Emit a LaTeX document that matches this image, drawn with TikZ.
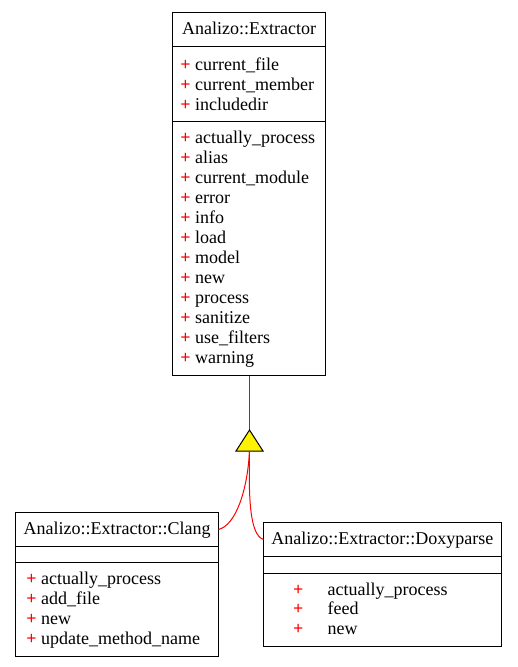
\documentclass[tikz,border=0pt]{standalone}
\usepackage{fontspec}
\setmainfont{Liberation Serif}
\usetikzlibrary{positioning}

\newcommand{\pubmark}{\textcolor{red}{\textbf{+}}}

\begin{document}
\begin{tikzpicture}[
    x=1pt, y=-1pt,
    line join=miter,
    classbox/.style={draw=black, line width=1pt, fill=white, inner sep=0pt, outer sep=0pt},
    classname/.style={classbox, minimum height=34pt, font=\fontsize{18}{20}\selectfont,
        text height=13pt, text depth=3.5pt},
    member/.style={anchor=base west, inner sep=0pt, font=\fontsize{18}{20}\selectfont},
    redmark/.style={member, text=red, font=\fontsize{18}{20}\selectfont\bfseries},
    inherit/.style={draw=red, line width=1pt},
    arrowhead/.style={draw=black, fill=yellow, line width=1pt}
]

\useasboundingbox (0,0) rectangle (517,667);

% -------------------------------------------------
% Analizo::Extractor
% -------------------------------------------------

\node[classname, minimum width=153pt, anchor=north] (extractor) at (249,12.5) {Analizo::Extractor};
\node[classbox, minimum width=153pt, minimum height=75pt, below=0pt of extractor] (extractor-attrs) {};
\node[classbox, minimum width=153pt, minimum height=254pt, below=0pt of extractor-attrs] (extractor-ops) {};

\foreach \attr [count=\i from 0] in {current\_file, current\_member, includedir}
    \node[member] (attr\i) at (180.2, 70+20*\i) {\pubmark\ \attr};

\foreach \op [count=\i from 0] in {actually\_process, alias, current\_module, error, info,
    load, model, new, process, sanitize, use\_filters, warning}
    \node[member] (op\i) at (180.2, 143.5+20*\i) {\pubmark\ \op};

% -------------------------------------------------
% Analizo::Extractor::Clang
% -------------------------------------------------

\node[classname, minimum width=203pt, anchor=north] (clang) at (117,512.5) {Analizo::Extractor::Clang};
\node[classbox, minimum width=203pt, minimum height=16pt, below=0pt of clang] (clang-attrs) {};
\node[classbox, minimum width=203pt, minimum height=94pt, below=0pt of clang-attrs] (clang-ops) {};

\foreach \op [count=\i from 0] in {actually\_process, add\_file, new, update\_method\_name}
    \node[member] (clang-op\i) at (26.2, 584+20*\i) {\pubmark\ \op};

% -------------------------------------------------
% Analizo::Extractor::Doxyparse
% -------------------------------------------------

\node[classname, minimum width=237.5pt, anchor=north] (dox) at (382.25,522.5) {Analizo::Extractor::Doxyparse};
\node[classbox, minimum width=237.5pt, minimum height=17pt, below=0pt of dox] (dox-attrs) {};
\node[classbox, minimum width=237.5pt, minimum height=73pt, below=0pt of dox-attrs] (dox-ops) {};

\foreach \op [count=\i from 0] in {actually\_process, feed, new} {
    \node[redmark] (dox-mark\i) at (292.8, 595+19.5*\i) {+};
    \node[member] (dox-op\i) at (327.5, 595+19.5*\i) {\op};
}

% -------------------------------------------------
% Generalisation: hollow triangle and links
% -------------------------------------------------

\coordinate (tri-top)   at (249.5,430);
\coordinate (tri-left)  at (236,451);
\coordinate (tri-right) at (263,451);
\coordinate (tri-base)  at (249.5,451);

\draw[inherit] (extractor-ops.south -| tri-top) -- (tri-top);
\draw[arrowhead] (tri-top) -- (tri-left) -- (tri-right) -- cycle;

\draw[inherit] (tri-base) .. controls (247.5,490) and (236,525) .. (clang.east);
\draw[inherit] (tri-base) .. controls (248.5,500) and (250,535) .. (dox.west);
\end{tikzpicture}
\end{document}
